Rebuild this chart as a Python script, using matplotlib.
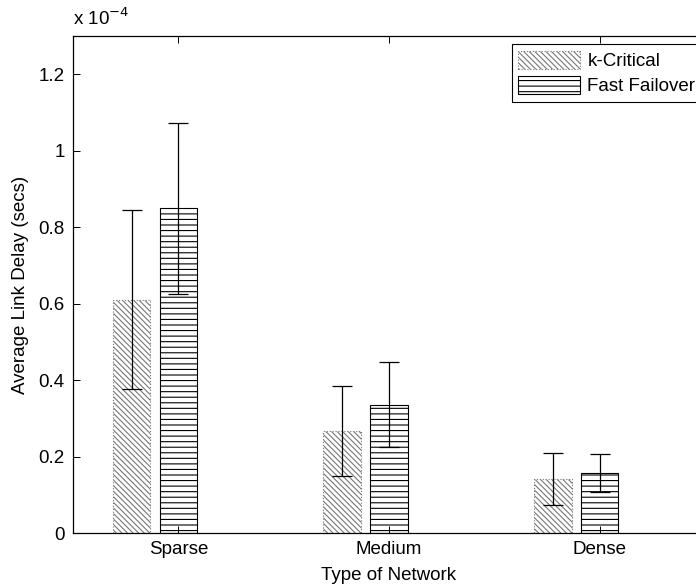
import matplotlib

matplotlib.use("Agg")
import matplotlib.pyplot as plt
import numpy as np

plt.rcParams["font.family"] = ["Liberation Sans", "DejaVu Sans"]
plt.rcParams["hatch.linewidth"] = 0.8

# Mean link delay and error half-widths, in units of 1e-4 s
networks = ["Sparse", "Medium", "Dense"]
kcritical_mean = [0.610, 0.267, 0.141]
kcritical_err = [0.234, 0.117, 0.068]
failover_mean = [0.849, 0.336, 0.156]
failover_err = [0.223, 0.111, 0.050]
y_ticks = [0, 0.2, 0.4, 0.6, 0.8, 1.0, 1.2]

x = np.arange(1, len(networks) + 1)
width = 0.178
offset = 0.222
fs = 13.5

fig = plt.figure(figsize=(6.96, 5.88), dpi=100)
ax = fig.add_axes([73 / 696, 55 / 588, 632 / 696, 497 / 588])

ax.bar(x - offset, kcritical_mean, width, color="white", edgecolor="#777777",
       hatch="\\" * 6, linestyle=":", linewidth=0.8, label="k-Critical")
ax.bar(x, failover_mean, width, color="white", edgecolor="black",
       hatch="---", linewidth=0.8, label="Fast Failover")
ax.errorbar(x - offset, kcritical_mean, yerr=kcritical_err, fmt="none",
            ecolor="black", elinewidth=0.9, capsize=7, capthick=0.9)
ax.errorbar(x, failover_mean, yerr=failover_err, fmt="none",
            ecolor="black", elinewidth=0.9, capsize=7, capthick=0.9)

ax.set_xlim(0.5, 3.5)
ax.set_ylim(0, 1.3)
ax.set_xticks(x)
ax.set_xticklabels(networks, fontsize=fs)
ax.set_yticks(y_ticks)
ax.set_yticklabels([f"{v:g}" for v in y_ticks], fontsize=fs)
ax.tick_params(direction="in", length=5, width=0.7, top=True, right=True, pad=6)
for s in ax.spines.values():
    s.set_linewidth(0.9)

ax.set_xlabel("Type of Network", fontsize=fs, labelpad=6)
ax.set_ylabel("Average Link Delay (secs)", fontsize=fs, labelpad=7)
ax.text(0.0, 1.015, r"x 10$^{-4}$", transform=ax.transAxes, fontsize=fs,
        ha="left", va="bottom")

leg = ax.legend(loc="upper right", bbox_to_anchor=(702 / 696, 544 / 588),
                bbox_transform=fig.transFigure, fontsize=fs, fancybox=False,
                edgecolor="black", framealpha=1, borderaxespad=0,
                handlelength=3.3, handleheight=1.1, handletextpad=0.4,
                labelspacing=0.3, borderpad=0.35)
leg.get_frame().set_linewidth(0.8)

fig.savefig("out.png", dpi=100)
